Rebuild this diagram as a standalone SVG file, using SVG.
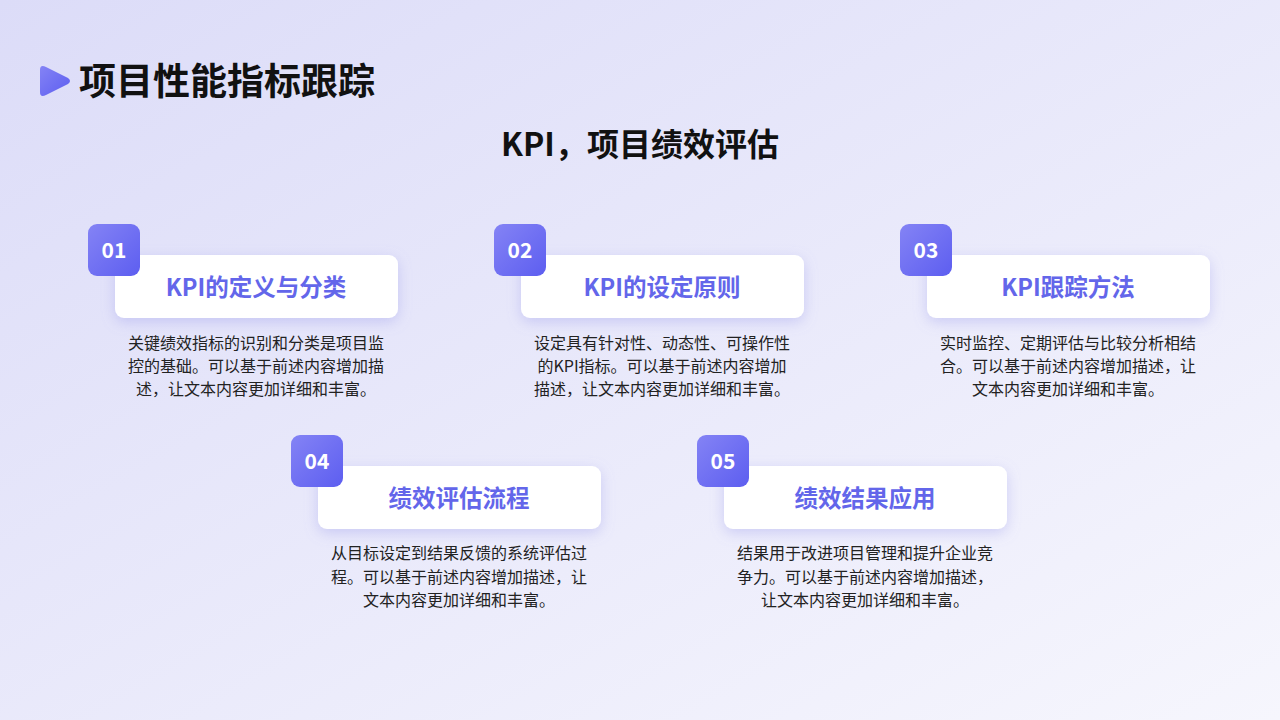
<svg xmlns="http://www.w3.org/2000/svg" width="1280" height="720" viewBox="0 0 1280 720">
<defs>
<linearGradient id="bg" x1="0" y1="0" x2="1" y2="1"><stop offset="0" stop-color="#dcdcf8"/><stop offset="1" stop-color="#f6f6fd"/></linearGradient>
<linearGradient id="bd" x1="0" y1="0" x2="1" y2="1"><stop offset="0" stop-color="#8483f5"/><stop offset="1" stop-color="#5d5ef0"/></linearGradient>
<filter id="sh" x="-20%" y="-40%" width="140%" height="180%"><feDropShadow dx="0" dy="4" stdDeviation="7" flood-color="#8f8fe8" flood-opacity="0.35"/></filter>
<style>
text{font-family:"Noto Sans CJK SC","Liberation Sans",sans-serif;text-anchor:middle}
.card{fill:#fff;filter:url(#sh)}
.badge{fill:url(#bd)}
.num{fill:#fff;font-size:21px;font-weight:bold}
.ttl{fill:#6366ea;font-size:23.5px;font-weight:bold}
.desc{fill:#222;font-size:16px}
</style>
</defs>
<rect width="1280" height="720" fill="url(#bg)"/>
<path d="M40 70 Q40 64 46 67 L68 78 Q72 81 68 84 L46 95 Q40 98 40 92 Z" fill="url(#bd)"/>
<text x="79" y="95" style="text-anchor:start;font-size:37px;font-weight:bold;fill:#111">项目性能指标跟踪</text>
<text x="640" y="156" style="font-size:32px;font-weight:bold;fill:#111">KPI，项目绩效评估</text>
<g id="n1"><rect class="card" x="115" y="255" width="283" height="63" rx="9"/><rect class="badge" x="88" y="224" width="52" height="52" rx="9"/><text class="num" x="114" y="258">01</text><text class="ttl" x="256" y="296">KPI的定义与分类</text>
<text class="desc" x="256" y="349">关键绩效指标的识别和分类是项目监</text><text class="desc" x="256" y="372">控的基础。可以基于前述内容增加描</text><text class="desc" x="256" y="395">述，让文本内容更加详细和丰富。</text></g>
<g id="n2"><rect class="card" x="521" y="255" width="283" height="63" rx="9"/><rect class="badge" x="494" y="224" width="52" height="52" rx="9"/><text class="num" x="520" y="258">02</text><text class="ttl" x="662" y="296">KPI的设定原则</text>
<text class="desc" x="662" y="349">设定具有针对性、动态性、可操作性</text><text class="desc" x="662" y="372">的KPI指标。可以基于前述内容增加</text><text class="desc" x="662" y="395">描述，让文本内容更加详细和丰富。</text></g>
<g id="n3"><rect class="card" x="927" y="255" width="283" height="63" rx="9"/><rect class="badge" x="900" y="224" width="52" height="52" rx="9"/><text class="num" x="926" y="258">03</text><text class="ttl" x="1068" y="296">KPI跟踪方法</text>
<text class="desc" x="1068" y="349">实时监控、定期评估与比较分析相结</text><text class="desc" x="1068" y="372">合。可以基于前述内容增加描述，让</text><text class="desc" x="1068" y="395">文本内容更加详细和丰富。</text></g>
<g id="n4"><rect class="card" x="318" y="466" width="283" height="63" rx="9"/><rect class="badge" x="291" y="435" width="52" height="52" rx="9"/><text class="num" x="317" y="469">04</text><text class="ttl" x="459" y="507">绩效评估流程</text>
<text class="desc" x="459" y="559">从目标设定到结果反馈的系统评估过</text><text class="desc" x="459" y="583">程。可以基于前述内容增加描述，让</text><text class="desc" x="459" y="606">文本内容更加详细和丰富。</text></g>
<g id="n5"><rect class="card" x="724" y="466" width="283" height="63" rx="9"/><rect class="badge" x="697" y="435" width="52" height="52" rx="9"/><text class="num" x="723" y="469">05</text><text class="ttl" x="865" y="507">绩效结果应用</text>
<text class="desc" x="865" y="559">结果用于改进项目管理和提升企业竞</text><text class="desc" x="865" y="583">争力。可以基于前述内容增加描述，</text><text class="desc" x="865" y="606">让文本内容更加详细和丰富。</text></g>
<g id="connectors"/>
</svg>
